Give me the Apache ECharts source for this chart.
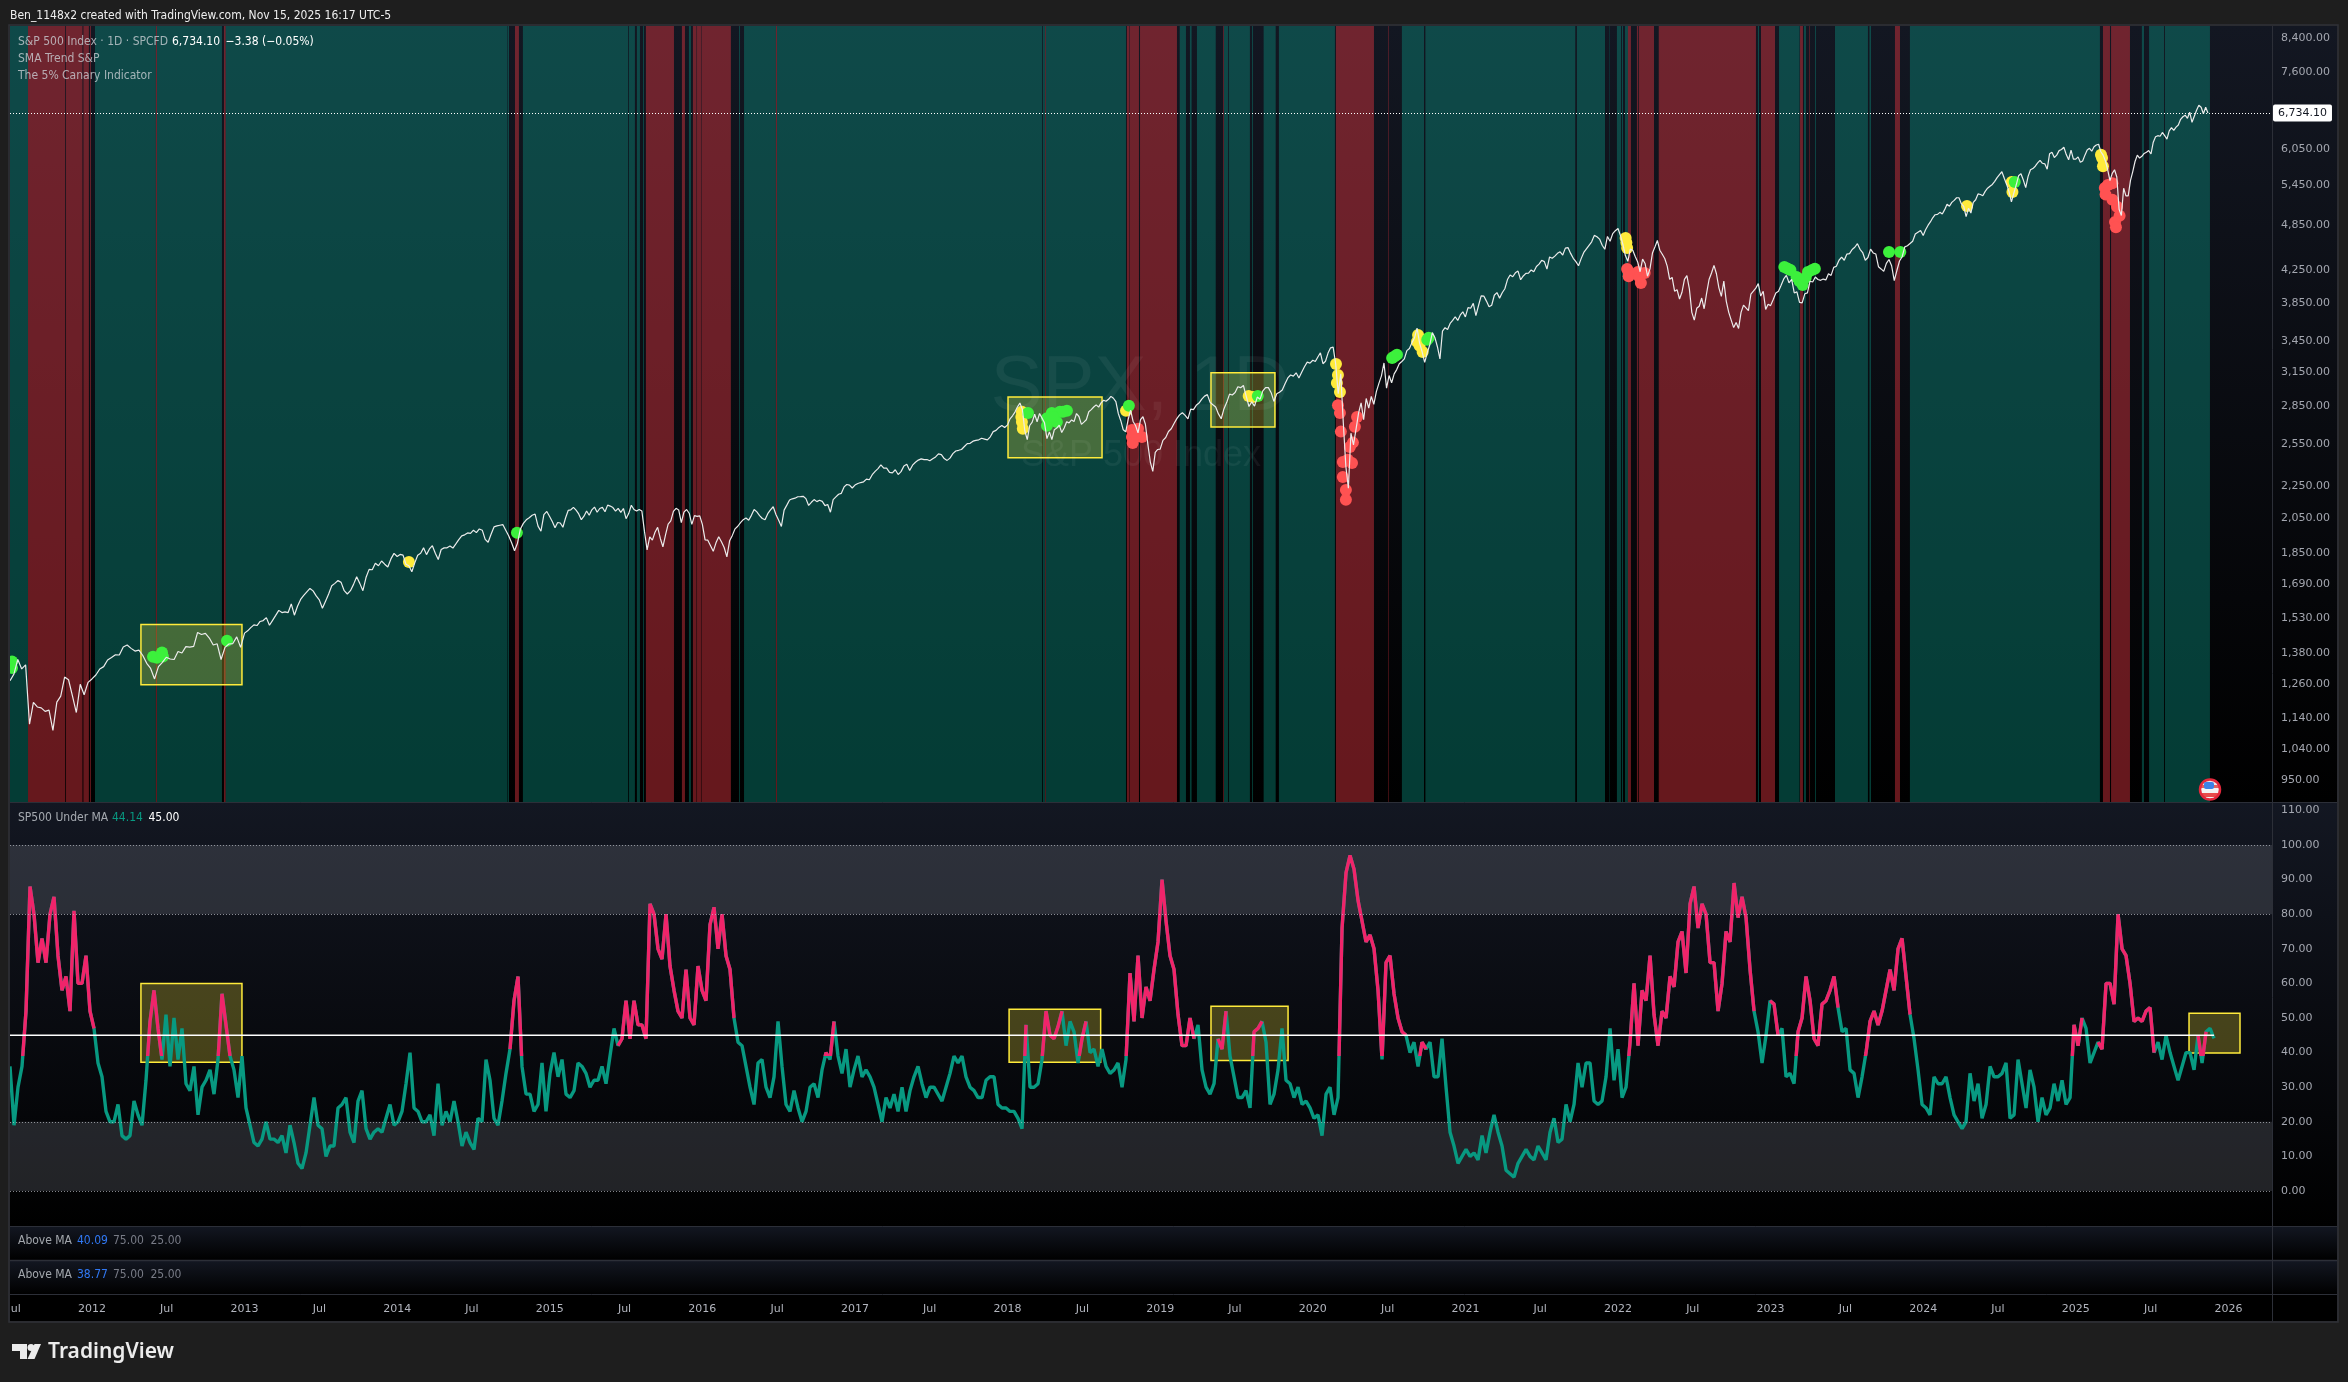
<!DOCTYPE html>
<html><head><meta charset="utf-8">
<style>html,body{margin:0;padding:0;background:#1e1e1e}#c{width:2348px;height:1382px}</style>
<script src="https://cdn.jsdelivr.net/npm/echarts@6/dist/echarts.min.js"></script>
</head><body><div id="c"></div>
<script>
// ---------- S&P 500 closes, one list per year ----------
const spx2011=[1271,1296,1353,1316,1332,1119,1193,1177,1174,1162,1166,1099,1194,1215,1285,1275,1216,1158,1258,1220,1265];
const spx2012=[1278,1293,1316,1325,1351,1361,1372,1371,1404,1412,1398,1387,1391,1369,1338,1318,1278,1325,1342,1362,1355,1353,1385,1379,1405,1403,1406,1465,1456,1461,1441,1412,1417,1353,1402,1416,1418,1446,1402];
const spx2013=[1462,1472,1486,1498,1495,1513,1517,1530,1496,1518,1540,1563,1553,1556,1553,1593,1541,1582,1614,1633,1650,1667,1655,1631,1612,1573,1606,1640,1680,1692,1706,1697,1656,1640,1656,1687,1725,1692,1656,1721,1763,1761,1795,1782,1807,1790,1775,1818,1848];
const spx2014=[1831,1842,1838,1790,1782,1751,1797,1838,1848,1878,1841,1872,1890,1849,1815,1869,1878,1878,1888,1877,1900,1924,1945,1951,1962,1960,1978,1964,1985,1978,1925,1909,1955,1997,2003,2007,2011,1978,1946,1906,1862,1904,1985,2018,2039,2052,2067,2074,2002,1972,2070,2090];
const spx2015=[2058,2028,1992,2023,2020,1995,2050,2096,2100,2115,2098,2075,2040,2061,2093,2067,2100,2117,2085,2108,2115,2088,2129,2123,2114,2092,2109,2084,2108,2046,2077,2128,2102,2092,2102,2093,1971,1867,1940,1921,1966,1995,1932,1884,1951,2014,2033,2090,2109,2099,2023,2086,2102,2079,2012,2064,2060,2063];
const spx2016=[2012,1922,1921,1890,1859,1906,1940,1912,1880,1829,1917,1948,1986,2001,2022,2040,2050,2037,2066,2102,2087,2065,2047,2040,2076,2099,2119,2071,2037,2000,2098,2129,2161,2169,2173,2182,2183,2185,2170,2127,2147,2164,2151,2160,2153,2126,2133,2085,2164,2181,2198,2204,2246,2262,2258,2239];
const spx2017=[2258,2269,2275,2280,2298,2294,2328,2351,2370,2396,2373,2373,2344,2341,2362,2329,2349,2388,2400,2357,2394,2415,2430,2439,2433,2434,2425,2439,2453,2475,2470,2441,2428,2444,2477,2496,2501,2507,2529,2550,2553,2569,2575,2579,2591,2585,2579,2602,2642,2652,2675,2690,2674];
const spx2018=[2695,2743,2768,2798,2840,2873,2822,2649,2581,2690,2717,2780,2720,2787,2749,2711,2588,2640,2581,2657,2670,2693,2635,2670,2720,2711,2734,2721,2786,2762,2699,2717,2736,2801,2818,2840,2858,2839,2875,2897,2888,2905,2930,2914,2885,2785,2728,2656,2641,2738,2813,2722,2690,2632,2737,2760,2700,2545,2416,2351,2486,2507];
const spx2019=[2510,2575,2597,2643,2664,2706,2745,2775,2792,2771,2743,2822,2818,2854,2873,2906,2932,2945,2879,2859,2840,2783,2744,2826,2879,2950,2942,2964,3014,3006,3025,2932,2844,2883,2847,2924,2906,2978,3007,3006,2962,2887,2952,2966,2986,3040,3093,3120,3110,3140,3093,3145,3196,3240,3231];
const spx2020=[3258,3246,3289,3330,3225,3248,3327,3379,3386,3225,2954,3130,2711,2386,2237,2630,2541,2660,2790,2874,2736,2912,2830,2930,2863,2971,3044,3112,3232,3002,3115,3050,3130,3170,3225,3246,3271,3351,3373,3431,3480,3580,3426,3340,3237,3330,3408,3534,3484,3390,3270,3550,3585,3567,3630,3662,3702,3662,3722,3756];
const spx2021=[3700,3803,3795,3850,3714,3826,3935,3934,3876,3811,3829,3943,3974,3910,3972,4019,4129,4185,4163,4211,4233,4127,4173,4204,4208,4247,4224,4291,4320,4369,4352,4259,4412,4395,4423,4460,4480,4437,4528,4536,4459,4395,4352,4300,4391,4471,4519,4566,4613,4701,4682,4650,4567,4513,4686,4620,4725,4766];
const spx2022=[4796,4700,4577,4430,4356,4515,4500,4418,4348,4225,4384,4329,4170,4260,4463,4543,4631,4500,4447,4392,4296,4132,4155,3991,4008,3900,3978,4132,4176,4017,3750,3666,3795,3818,3911,3790,3966,4130,4210,4305,4200,4030,3930,4110,3873,3750,3666,3586,3640,3577,3750,3830,3800,3770,3956,3990,4027,4080,3934,3990,3783,3840];
const spx2023=[3825,3895,3970,3990,4060,4137,4180,4090,4130,3970,3982,3861,3855,3960,3970,4109,4100,4160,4130,4120,4135,4125,4200,4180,4280,4294,4370,4410,4370,4450,4455,4510,4540,4588,4513,4470,4370,4405,4515,4465,4450,4288,4260,4230,4330,4380,4300,4117,4240,4360,4415,4545,4560,4590,4620,4720,4745,4770];
const spx2024=[4700,4780,4840,4890,4950,4995,5000,5030,5005,5070,5150,5120,5180,5210,5250,5250,5160,5120,4967,5090,5020,5180,5220,5310,5300,5280,5350,5400,5430,5460,5510,5570,5620,5667,5560,5460,5346,5186,5320,5450,5600,5635,5530,5408,5590,5700,5720,5760,5815,5860,5810,5800,5710,5973,6000,5910,5950,6030,6050,6090,5960,5870,6040,5880];
const spx2025=[5880,5920,5827,5850,5950,6040,6070,6020,6100,6130,6144,6010,5950,5850,5700,5521,5640,5700,5580,5075,4983,5400,5280,5280,5525,5670,5840,5950,5900,5930,5980,6000,6030,5970,6180,6280,6300,6290,6360,6300,6238,6390,6450,6400,6460,6500,6610,6660,6690,6630,6750,6552,6670,6790,6890,6850,6720,6850,6734.10];
const lastPrice=6734.10, lastDate=2025.866, firstDate=2011.463;

// ---------- SP500 Under MA, one value every 1/38.15 year ----------
const under=[
36,19,30,36,52,88,80,66,73,66,80,85,68,58,62,52,81,60,60,68,52,47,37,33,23,20,20,25,16,15,16,26,22,19,32,49,58,47,38,51,36,50,38,47,31,29,36,22,30,32,35,28,38,57,48,39,35,27,39,24,19,14,13,15,20,15,15,14,16,11,19,14,8,6.5,11,19,27,19,18,10,13,13,24,25,27,17,14,26,29,18,15,17,18,17,21,25,19,20,23,31,40,24,23,20,20,22,16,31,19,23,20,26,20,13,17,14,12,21,20,38,32,21,19,26,34,41,55,62,36,28,
28,23,25,37,23,34,40,33,38,28,27,29,37,36,34,30,32,32,36,31,39,47,42,44,55,44,55,48,48,44,83,80,70,67,80,65,58,52,50,64,50,48,65,58,55,77,82,70,80,68,64,50,43,42,36,30,25,37,38,30,27,33,49,36,25,23,29,24,20,23,30,31,27,35,40,38,49,39,34,41,30,35,39,33,35,33,30,25,20,27,24,28,23,30,23,29,33,36,31,27,30,30,28,26,30,34,39,37,39,33,30,29,27,27,32,33,33,25,24,24,23,23,21,18,48,30,30,31,38,52,45,
44,47.5,52,42,49,46,37,44,49,40,41,36,41,36,34,35,37,30,38,63,49,68,50,59,55,64,72,90,78,68,64,51,42,42,50,44,48,35,30,28,31,44,41,52,39,33,27,27,29,24,46,47,49,43,25,28,35,47,32,31,27,30,25,26,24,21,22,16,28,30,22,27,76,92,97,93,84,78,72,74,70,58,38,66,68,57,50,46,45,40,43,36,43,41,43,33,33,44,30,17,13,8,10,12,10,11,9,16,11,17,22,17,13,6,5,4,8,10,12,10,9,13,11,9,17,21,14,15,25,20,
25,37,30,37,37,26,25,26,33,47,32,41,27,30,43,60,42,58,55,68,51,42,52,50,62,59,72,75,63,83,88,76,83,80,66,66,52,60,75,72,89,79,85,79,64,52,46,37,45,55,54,45,47,33,34,31,46,50,62,55,44,42,54,55,58,62,53,46,47,35,34,27,33,40,49,52,48,52,58,64,58,70,73,62,51,44,35,25,24,22,33,31,31,33,27,22,20,18,20,34,26,31,21,25,36,33,33,34,37,21,22,38,31,24,35,30,20,27,22,24,31,26,32,25,27,48,42,50,47,37,
40,43,41,60,60,54,80,70,68,60,49,50,49,52,53,40,43,38,45,40,36,32,36,40,40,35,45,37,46,47,44.14];
const underStart=2011.463, underStep=1/38.15;
const thresholdLevel=45;
const pinkFloor=39;
// stretches of time where the line is painted pink
const pinkSpans=[[2011.56,2012.01],[2012.35,2012.39],[2012.41,2012.45],[2012.465,2012.485],[2012.54,2012.555],[2012.84,2012.885],[2014.75,2014.80],[2015.47,2016.20],[2016.47,2016.49],[2016.81,2016.84],[2018.085,2018.11],[2018.21,2018.265],[2018.28,2018.34],[2018.474,2018.494],[2018.77,2019.10],[2019.15,2019.215],[2019.38,2019.41],[2019.575,2019.654],[2020.13,2020.427],[2020.44,2020.585],[2020.715,2020.73],[2022.046,2022.23],[2022.25,2022.885],[2023.016,2023.04],[2023.16,2023.26],[2023.30,2023.435],[2023.62,2023.906],[2024.97,2025.03],[2025.16,2025.49],[2025.52,2025.53],[2025.76,2025.77],[2025.815,2025.85]];

// ---------- regime bands on the price pane (years) ----------
const greenBands=[[2011.463,2011.581],[2012.020,2012.419],[2012.426,2012.852],[2012.876,2014.720],[2014.723,2014.733],[2014.824,2015.514],[2015.519,2015.558],[2015.571,2015.591],[2015.611,2015.617],[2015.912,2015.925],[2016.240,2016.246],[2016.273,2016.482],[2016.489,2018.227],[2018.232,2018.245],[2018.250,2018.776],[2019.128,2019.169],[2019.195,2019.206],[2019.241,2019.364],[2019.418,2019.446],[2019.451,2019.588],[2019.602,2019.608],[2019.678,2019.757],[2019.778,2020.145],[2020.584,2020.729],[2020.738,2021.720],[2021.731,2021.915],[2021.944,2021.947],[2021.993,2022.020],[2022.026,2022.033],[2022.046,2022.065],[2022.917,2022.924],[2023.055,2023.190],[2023.219,2023.232],[2023.291,2023.297],[2023.422,2023.638],[2023.648,2023.658],[2023.913,2025.158],[2025.433,2025.447],[2025.480,2025.578],[2025.584,2025.879]];
const redBands=[[2011.581,2011.825],[2011.830,2011.938],[2011.944,2011.980],[2011.987,2011.993],[2012.419,2012.426],[2012.865,2012.876],[2014.772,2014.798],[2015.630,2015.814],[2015.866,2015.886],[2015.938,2015.962],[2015.965,2015.991],[2015.994,2016.187],[2016.482,2016.489],[2018.245,2018.250],[2018.782,2018.799],[2018.802,2018.861],[2018.868,2019.110],[2019.413,2019.418],[2020.152,2020.401],[2020.493,2020.497],[2022.065,2022.085],[2022.124,2022.131],[2022.136,2022.236],[2022.267,2022.904],[2022.937,2023.029],[2023.193,2023.212],[2023.252,2023.256],[2023.815,2023.848],[2025.178,2025.224],[2025.231,2025.355]];

// ---------- signal dots [year, price] ----------
const dotsYellow=[[2014.077,1802],[2018.09,2758],[2018.094,2717],[2018.10,2664],[2018.094,2800],[2018.776,2808],[2019.58,2933],[2019.608,2925],[2020.152,3222],[2020.165,3120],[2020.158,3047],[2020.178,2967],[2020.69,3510],[2020.683,3440],[2020.72,3337],[2020.70,3400],[2022.05,4664],[2022.055,4600],[2022.06,4530],[2024.287,5125],[2024.58,5498],[2024.585,5340],[2025.165,5955],[2025.172,5900],[2025.178,5760]];
const dotsGreen=[[2011.476,1320],[2011.476,1345],[2012.40,1364],[2012.426,1360],[2012.459,1381],[2012.465,1365],[2012.885,1430],[2014.785,1963],[2018.134,2791],[2018.258,2748],[2018.258,2687],[2018.29,2791],[2018.323,2717],[2018.343,2800],[2018.389,2808],[2018.363,2800],[2018.298,2758],[2018.795,2850],[2019.64,2933],[2020.52,3280],[2020.535,3295],[2020.552,3310],[2020.75,3460],[2020.76,3480],[2023.09,4285],[2023.11,4265],[2023.13,4247],[2023.17,4160],[2023.19,4110],[2023.21,4065],[2023.23,4150],[2023.245,4221],[2023.27,4245],[2023.29,4262],[2023.776,4477],[2023.85,4477],[2024.60,5498]];
const dotsRed=[[2018.815,2655],[2018.855,2664],[2018.815,2600],[2018.88,2600],[2018.82,2555],[2018.84,2618],[2020.165,2855],[2020.178,2791],[2020.184,2642],[2020.197,2417],[2020.197,2312],[2020.217,2226],[2020.217,2163],[2020.23,2432],[2020.257,2410],[2020.243,2526],[2020.263,2558],[2020.276,2680],[2020.29,2758],[2022.07,4221],[2022.06,4260],[2022.07,4170],[2022.13,4221],[2022.15,4088],[2022.14,4160],[2022.175,4210],[2025.19,5403],[2025.21,5450],[2025.24,5478],[2025.24,5220],[2025.27,5115],[2025.287,4980],[2025.257,4890],[2025.263,4815],[2025.195,5300]];

// ---------- highlight boxes [x0, x1, lo, hi] ----------
const priceBoxes=[[2012.321,2012.983,1256,1499],[2018.003,2018.619,2446,2925],[2019.333,2019.752,2679,3140]];
const underBoxes=[[2012.321,2012.983,37.2,60],[2018.01,2018.61,37.2,52.5],[2019.333,2019.838,37.7,53.4],[2025.742,2026.076,39.9,51.4]];

// ---------- axis ticks ----------
const priceTicks=[8400,7600,6800,6050,5450,4850,4250,3850,3450,3150,2850,2550,2250,2050,1850,1690,1530,1380,1260,1140,1040,950];
const underTicks=[0,10,20,30,40,50,60,70,80,90,100,110];
const guideLevels=[0,20,80,100];
const timeTicks=[2011.49,2012,2012.49,2013,2013.49,2014,2014.49,2015,2015.49,2016,2016.49,2017,2017.49,2018,2018.49,2019,2019.49,2020,2020.49,2021,2021.49,2022,2022.49,2023,2023.49,2024,2024.49,2025,2025.49,2026];

// ---------- build ----------
const spxData=[];
[[2011.463,2012,spx2011],[2012,2013,spx2012],[2013,2014,spx2013],[2014,2015,spx2014],[2015,2016,spx2015],[2016,2017,spx2016],[2017,2018,spx2017],[2018,2019,spx2018],[2019,2020,spx2019],[2020,2021,spx2020],[2021,2022,spx2021],[2022,2023,spx2022],[2023,2024,spx2023],[2024,2025,spx2024]].forEach(([a,b,v])=>v.forEach((p,j)=>spxData.push([a+(b-a)*j/v.length,p])));
spx2025.forEach((p,j)=>spxData.push([2025+(lastDate-2025)*j/(spx2025.length-1),p]));

const underMin=-10.12, underMax=112.43;
const underX=under.map((_,i)=>underStart+i*underStep);
const isPink=underX.map(t=>pinkSpans.some(s=>t>=s[0]&&t<=s[1]));
const tealData=under.map((v,i)=>[underX[i],v]);
const pinkData=under.map((v,i)=>[underX[i],(isPink[i]||isPink[i-1]||isPink[i+1])?v:null]);
const lineEnd=underX[underX.length-1];
const pinkCut=(underMax-pinkFloor)/(underMax-underMin);
const pinkColor={type:'linear',x:0,y:802,x2:0,y2:1226,global:true,colorStops:[{offset:0,color:'#f0246a'},{offset:pinkCut,color:'#f0246a'},{offset:pinkCut,color:'rgba(240,36,106,0)'},{offset:1,color:'rgba(240,36,106,0)'}]};

const bandArea=(list,color)=>({silent:true,itemStyle:{color:color,borderWidth:0},data:list.map(b=>[{xAxis:b[0]},{xAxis:b[1]}])});
const boxArea=list=>({silent:true,itemStyle:{color:'rgba(255,235,59,0.25)',borderColor:'#ffeb3b',borderWidth:1.5},data:list.map(b=>[{xAxis:b[0],yAxis:b[3]},{xAxis:b[1],yAxis:b[2]}])});
const helper=(ax,extra)=>Object.assign({type:'line',xAxisIndex:ax,yAxisIndex:ax,data:[],silent:true,showSymbol:false,animation:false},extra);
const dots=(d,c)=>({type:'scatter',xAxisIndex:0,yAxisIndex:0,data:d,symbolSize:12,z:3,silent:true,itemStyle:{color:c,opacity:1},animation:false});

const FONT='"DejaVu Sans Condensed","DejaVu Sans",sans-serif';
const txt=(x,y,t,fill,size,weight,z,align)=>({type:'text',silent:true,z:z||60,style:{x:x,y:y,text:t,fill:fill,font:(weight||'normal')+' '+(size||12)+'px '+FONT,textVerticalAlign:'middle',textAlign:align||'left'}});
const paneGrad=()=>new echarts.graphic.LinearGradient(0,0,0,1,[{offset:0,color:'#131722'},{offset:1,color:'#000000'}]);
const pane=(y,h)=>({type:'rect',silent:true,z:-2,shape:{x:10,y:y,width:2327,height:h},style:{fill:paneGrad()}});
const rule=(x1,y1,x2,y2,w)=>({type:'line',silent:true,z:60,shape:{x1,y1,x2,y2},style:{stroke:'#2c2f38',lineWidth:w||1}});
const legendGray='rgba(205,210,215,0.78)';

const graphic=[
 pane(26,776),pane(802,424),pane(1226,34),pane(1260,34),
 {type:'rect',silent:true,z:-2,shape:{x:10,y:1294,width:2327,height:27},style:{fill:'#000'}},
 // outside page areas covering clipped axis text
 {type:'rect',silent:true,z:50,shape:{x:0,y:0,width:10,height:1382},style:{fill:'#1e1e1e'}},
 {type:'rect',silent:true,z:61,shape:{x:9,y:25,width:2329,height:1297},style:{fill:'none',stroke:'#303238',lineWidth:1.5}},
 rule(2272.5,26,2272.5,1321),rule(10,802.5,2337,802.5),rule(10,1226.5,2337,1226.5),rule(10,1260.5,2337,1260.5,1.5),rule(10,1294.5,2337,1294.5),
 txt(10,15.5,'Ben_1148x2 created with TradingView.com, Nov 15, 2025 16:17 UTC-5','#eeeeee'),
 txt(18,41.5,'S&P 500 Index · 1D · SPCFD',legendGray),
 txt(172,41.5,'6,734.10','#ffffff'),
 txt(225.5,41.5,'−3.38 (−0.05%)','#ffffff'),
 txt(18,58.7,'SMA Trend S&P',legendGray),
 txt(18,76,'The 5% Canary Indicator',legendGray),
 txt(18,817.5,'SP500 Under MA',legendGray),
 txt(112,817.5,'44.14','#089981'),
 txt(148.5,817.5,'45.00','#ffffff',12),
 txt(18,1241,'Above MA',legendGray),txt(77,1241,'40.09','#3179f5'),txt(113,1241,'75.00','#787b86'),txt(150.5,1241,'25.00','#787b86'),
 txt(18,1275,'Above MA',legendGray),txt(77,1275,'38.77','#3179f5'),txt(113,1275,'75.00','#787b86'),txt(150.5,1275,'25.00','#787b86'),
 // watermark
 {type:'text',silent:true,z:1.5,style:{x:1140,y:388,text:'SPX, 1D',fill:'rgba(255,255,255,0.055)',font:'78px "Liberation Sans",sans-serif',textAlign:'center',textVerticalAlign:'middle'}},
 {type:'text',silent:true,z:1.5,style:{x:1141,y:456,text:'S&P 500 Index',fill:'rgba(255,255,255,0.055)',font:'36px "Liberation Sans",sans-serif',textAlign:'center',textVerticalAlign:'middle'}},
 // TradingView logo
 {type:'polygon',silent:true,z:60,shape:{points:[[12,1344],[27,1344],[27,1359],[20,1359],[20,1351],[12,1351]]},style:{fill:'#ececec'}},
 {type:'circle',silent:true,z:60,shape:{cx:31,cy:1347.5,r:3.5},style:{fill:'#ececec'}},
 {type:'polygon',silent:true,z:60,shape:{points:[[34.5,1344],[41,1344],[34.5,1359],[27.5,1359]]},style:{fill:'#ececec'}},
 {type:'text',silent:true,z:60,style:{x:48,y:1352,text:'TradingView',fill:'#ececec',font:'600 21px "Noto Sans",sans-serif',textVerticalAlign:'middle'}},
 // US flag event marker
 {type:'circle',silent:true,z:60,shape:{cx:2210,cy:789.5,r:10},style:{fill:new echarts.graphic.LinearGradient(0,0,0,1,[{offset:0,color:'#e8e8ee'},{offset:0.3,color:'#e8e8ee'},{offset:0.3,color:'#e06060'},{offset:0.45,color:'#e06060'},{offset:0.45,color:'#f4f4f4'},{offset:0.65,color:'#f4f4f4'},{offset:0.65,color:'#e84c4c'},{offset:0.85,color:'#e84c4c'},{offset:0.85,color:'#f4f4f4'},{offset:1,color:'#f4f4f4'}]),stroke:'#e5283c',lineWidth:2.5}},
 {type:'rect',silent:true,z:60,shape:{x:2204,y:782,width:10,height:7,r:2},style:{fill:'#3b82e8'}}
];

const option={
 backgroundColor:'#1e1e1e',animation:false,
 graphic:{elements:graphic},
 grid:[{left:10,right:76,top:26,height:776},{left:10,right:76,top:802,height:424}],
 xAxis:[
  {type:'value',gridIndex:0,min:firstDate,max:2026.2857,show:false,splitLine:{show:false}},
  {type:'value',gridIndex:1,min:firstDate,max:2026.2857,axisLine:{show:false},axisTick:{show:false},splitLine:{show:false},
   axisLabel:{show:true,customValues:timeTicks,margin:78,color:'#b2b5be',fontSize:11,fontFamily:'"DejaVu Sans",sans-serif',hideOverlap:false,formatter:v=>Math.abs(v-Math.round(v))<1e-6?String(Math.round(v)):'Jul'}}
 ],
 yAxis:[
  {type:'log',gridIndex:0,logBase:10,min:890.4,max:8694,position:'right',axisLine:{show:false},axisTick:{show:false},splitLine:{show:false},
   axisLabel:{show:true,customValues:priceTicks,margin:9,color:'#a4a7b0',fontSize:11,fontFamily:'"DejaVu Sans",sans-serif',hideOverlap:false,formatter:v=>Number(v).toLocaleString('en-US',{minimumFractionDigits:2,maximumFractionDigits:2})}},
  {type:'value',gridIndex:1,min:underMin,max:underMax,position:'right',axisLine:{show:false},axisTick:{show:false},splitLine:{show:false},
   axisLabel:{show:true,customValues:underTicks,margin:9,color:'#a4a7b0',fontSize:11,fontFamily:'"DejaVu Sans",sans-serif',hideOverlap:false,formatter:v=>Number(v).toFixed(2)}}
 ],
 series:[
  helper(0,{name:'bands green',markArea:bandArea(greenBands,'rgba(10,150,132,0.4)')}),
  helper(0,{name:'bands red',markArea:bandArea(redBands,'rgba(227,54,64,0.45)')}),
  helper(0,{name:'boxes',markArea:boxArea(priceBoxes)}),
  dots(dotsYellow,'#ffeb3b'),dots(dotsGreen,'#3cf03c'),dots(dotsRed,'#ff5252'),
  {type:'line',name:'S&P 500',xAxisIndex:0,yAxisIndex:0,data:spxData,showSymbol:false,z:4,silent:true,animation:false,lineStyle:{color:'#ececec',width:1.2},
   markLine:{silent:true,symbol:'none',precision:2,animation:false,lineStyle:{color:'#ffffff',type:[1,2],width:1},
    label:{show:true,position:'end',distance:1,formatter:()=>'6,734.10',backgroundColor:'#ffffff',color:'#131722',fontSize:11,fontFamily:'"DejaVu Sans",sans-serif',padding:[3,5],borderRadius:2},
    data:[{yAxis:lastPrice}]}},
  helper(1,{name:'zones',markArea:{silent:true,itemStyle:{color:'rgba(120,123,134,0.28)',borderWidth:0},data:[[{yAxis:80},{yAxis:100}],[{yAxis:0},{yAxis:20}]]},
   markLine:{silent:true,symbol:'none',animation:false,label:{show:false},lineStyle:{color:'rgba(200,203,210,0.65)',type:[1,2],width:1},data:guideLevels.map(v=>({yAxis:v}))}}),
  helper(1,{name:'boxes 2',markArea:boxArea(underBoxes)}),
  {type:'line',name:'Under MA',xAxisIndex:1,yAxisIndex:1,data:tealData,showSymbol:false,z:3,silent:true,animation:false,lineStyle:{color:'#089981',width:3.4}},
  {type:'line',name:'Under MA high',xAxisIndex:1,yAxisIndex:1,data:pinkData,showSymbol:false,connectNulls:false,z:4,silent:true,animation:false,lineStyle:{color:pinkColor,width:3.4}},
  {type:'line',name:'Threshold',xAxisIndex:1,yAxisIndex:1,data:[[underStart,thresholdLevel],[lineEnd,thresholdLevel]],showSymbol:false,z:5,silent:true,animation:false,lineStyle:{color:'#ffffff',width:1.5}}
 ]
};
const chart=echarts.init(document.getElementById('c'),null,{renderer:'canvas'});
chart.setOption(option);
</script></body></html>
